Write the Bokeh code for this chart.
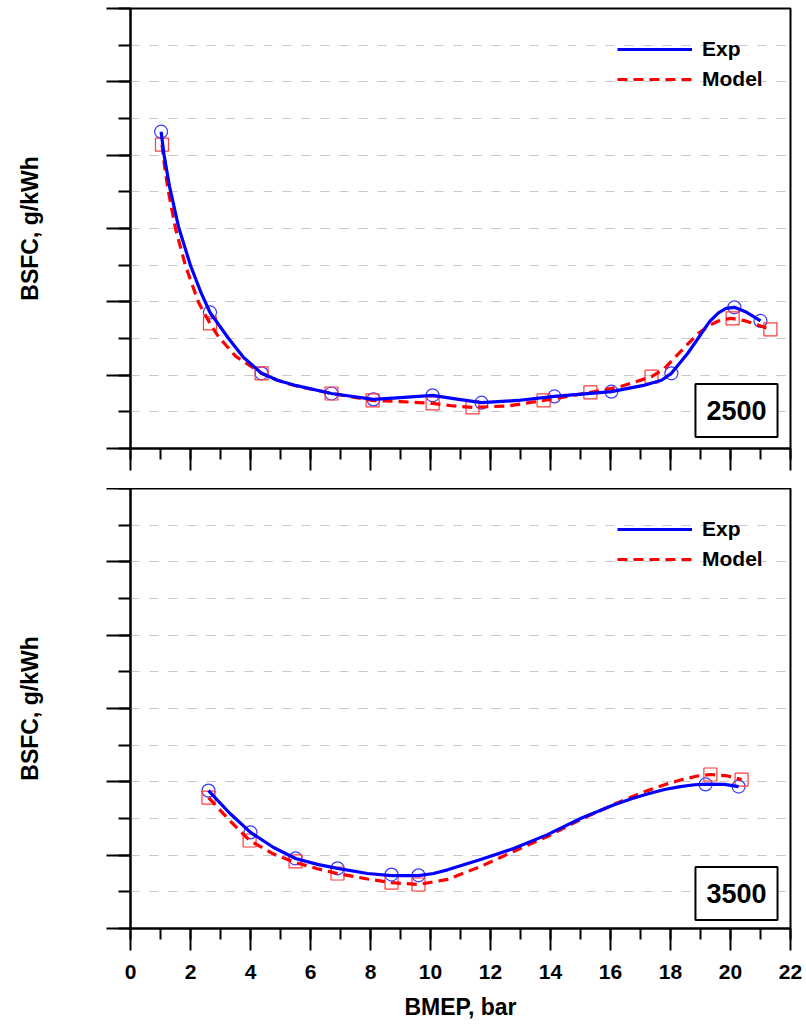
from bokeh.plotting import figure
from bokeh.models import (Range1d, SingleIntervalTicker, CustomJSTickFormatter,
                          Legend, LegendItem, Label)
from bokeh.layouts import column
from bokeh.embed import file_html
from bokeh.resources import INLINE

FONT = "Liberation Sans"

# ---------------- data: 2500 rpm ----------------
exp_2500_x = [1.02, 2.65, 4.37, 6.7, 8.1, 10.07, 11.7, 14.13, 16.03, 18.03, 20.13, 21.0]
exp_2500_y = [286.4, 237.1, 220.5, 215.0, 213.4, 214.5, 212.5, 214.2, 215.5, 220.5, 238.5, 234.8]
model_2500_x = [1.05, 2.65, 4.37, 6.7, 8.07, 10.07, 11.4, 13.77, 15.33, 17.37, 20.07, 21.33]
model_2500_y = [282.9, 234.1, 220.5, 215.0, 213.1, 212.3, 211.2, 213.1, 215.3, 219.6, 235.5, 232.5]

exp_2500_curve_x = [1.02, 1.12, 1.3, 1.6, 2.0, 2.35, 2.65, 3.27, 3.77, 4.37, 4.9, 5.5, 6.7, 8.1, 9.0,
                    10.07, 10.77, 11.7, 12.9, 14.13, 16.03, 17.1, 17.7, 18.03, 18.57, 19.0, 19.3,
                    19.6, 19.85, 20.13, 20.5, 21.0]
exp_2500_curve_y = [286.4, 280.0, 271.5, 260.5, 249.9, 242.5, 237.1, 230.0, 224.8, 220.5, 218.6,
                    217.2, 215.0, 213.4, 213.9, 214.5, 213.6, 212.5, 213.1, 214.2, 215.5, 217.2,
                    218.6, 220.5, 225.9, 231.0, 234.6, 237.0, 238.2, 238.5, 237.3, 234.8]
model_2500_curve_x = [1.05, 1.15, 1.27, 1.5, 1.83, 2.27, 2.65, 2.93, 3.5, 4.37, 4.9, 5.5, 6.7, 8.07,
                      9.0, 10.07, 10.77, 11.4, 12.57, 13.77, 15.33, 16.3, 17.37, 17.8, 18.27,
                      18.9, 19.3, 19.65, 20.03, 20.5, 21.33]
model_2500_curve_y = [282.9, 276.0, 269.8, 260.0, 249.9, 239.8, 234.1, 230.5, 225.2, 220.5, 218.6,
                      217.1, 215.0, 213.1, 212.8, 212.3, 211.6, 211.2, 211.6, 213.1, 215.3, 216.8,
                      219.6, 221.8, 225.9, 231.2, 233.6, 235.0, 235.5, 234.8, 232.5]

# ---------------- data: 3500 rpm ----------------
exp_3500_x = [2.6, 4.0, 5.5, 6.9, 8.7, 9.6, 19.17, 20.27]
exp_3500_y = [237.6, 226.2, 219.1, 216.4, 214.7, 214.5, 239.3, 238.7]
model_3500_x = [2.6, 3.97, 5.5, 6.9, 8.7, 9.6, 19.33, 20.37]
model_3500_y = [235.7, 224.0, 218.3, 215.0, 212.5, 212.0, 242.0, 240.6]

exp_3500_curve_x = [2.6, 3.3, 4.0, 4.77, 5.5, 6.23, 6.9, 7.9, 8.7, 9.6, 10.1, 10.57, 11.67, 12.77,
                    13.9, 15.0, 16.1, 16.7, 17.23, 17.8, 18.33, 18.8, 19.17, 19.8, 20.27]
exp_3500_curve_y = [237.6, 231.5, 226.2, 222.1, 219.1, 217.5, 216.4, 215.0, 214.4, 214.4, 215.0,
                    216.0, 218.8, 221.8, 225.6, 230.0, 233.7, 235.4, 236.7, 237.9, 238.7, 239.2,
                    239.4, 239.3, 238.7]
model_3500_curve_x = [2.6, 3.3, 3.97, 4.77, 5.5, 6.23, 6.9, 7.9, 8.7, 9.6, 10.57, 11.67, 12.77,
                      13.9, 15.0, 16.1, 16.7, 17.23, 17.8, 18.33, 18.9, 19.33, 19.9, 20.37]
model_3500_curve_y = [235.7, 229.5, 224.0, 220.3, 218.0, 216.3, 215.0, 213.5, 212.5, 212.0, 213.4,
                      216.9, 221.0, 225.1, 229.7, 233.8, 235.9, 237.6, 239.2, 240.5, 241.6, 242.0,
                      241.6, 240.6]

x_ticks_major = 2
y_ticks_major = 20
y_lo, y_hi = 200, 320
x_lo, x_hi = 0, 22


def panel(height, b_top, b_bottom, labels, ex, ey, mx, my, ecx, ecy, mcx, mcy, speed, box_y):
    p = figure(width=806, height=height, x_range=Range1d(x_lo, x_hi), y_range=Range1d(y_lo, y_hi),
               output_backend="svg", toolbar_location=None,
               min_border_left=130, min_border_right=16,
               min_border_top=b_top, min_border_bottom=b_bottom)
    p.outline_line_color = "black"
    p.outline_line_width = 2
    p.background_fill_color = "white"
    p.border_fill_color = "white"

    xt = SingleIntervalTicker(interval=x_ticks_major, num_minor_ticks=2)
    yt = SingleIntervalTicker(interval=y_ticks_major, num_minor_ticks=2)
    p.xaxis.ticker = xt
    p.yaxis.ticker = yt
    p.xgrid.visible = False
    p.ygrid.ticker = yt
    p.ygrid.grid_line_color = "#c8c8c8"
    p.ygrid.grid_line_dash = "9 10"
    p.ygrid.grid_line_width = 1
    p.ygrid.minor_grid_line_color = "#c8c8c8"
    p.ygrid.minor_grid_line_dash = "9 10"
    p.ygrid.minor_grid_line_width = 1

    for ax in (p.xaxis, p.yaxis):
        ax.axis_line_width = 2
        ax.major_tick_line_width = 2
        ax.minor_tick_line_width = 2
        ax.major_tick_in = 0
        ax.minor_tick_in = 0
        ax.axis_line_color = "black"
        ax.major_tick_line_color = "black"
        ax.minor_tick_line_color = "black"

    p.xaxis.major_tick_out = 22
    p.xaxis.minor_tick_out = 11
    p.yaxis.major_tick_out = 24
    p.yaxis.minor_tick_out = 12

    p.yaxis.formatter = CustomJSTickFormatter(code="return ''")
    p.yaxis.major_label_text_font_size = "1px"
    p.yaxis.major_label_standoff = 0
    p.yaxis.axis_label = "BSFC, g/kWh"
    p.yaxis.axis_label_text_font = FONT
    p.yaxis.axis_label_text_font_style = "bold"
    p.yaxis.axis_label_text_font_size = "23px"
    p.yaxis.axis_label_text_color = "black"
    p.yaxis.axis_label_standoff = 64

    if labels:
        p.xaxis.major_label_text_font = FONT
        p.xaxis.major_label_text_font_style = "bold"
        p.xaxis.major_label_text_font_size = "21px"
        p.xaxis.major_label_text_color = "black"
        p.xaxis.major_label_standoff = 14
        p.xaxis.axis_label = "BMEP, bar"
        p.xaxis.axis_label_text_font = FONT
        p.xaxis.axis_label_text_font_style = "bold"
        p.xaxis.axis_label_text_font_size = "23px"
        p.xaxis.axis_label_text_color = "black"
        p.xaxis.axis_label_standoff = 12
    else:
        p.xaxis.formatter = CustomJSTickFormatter(code="return ''")
        p.xaxis.major_label_text_font_size = "1px"
        p.xaxis.major_label_standoff = 0

    p.scatter(ex, ey, marker="circle", size=13, fill_color=None, line_color="#3a3aff", line_width=1.2)
    p.scatter(mx, my, marker="square", size=13, fill_color=None, line_color="#ff3a3a", line_width=1.2)
    red = p.line(mcx, mcy, line_color="#ff0000", line_width=3.2, line_dash="10 6")
    blue = p.line(ecx, ecy, line_color="#0000ff", line_width=3.2, line_join="round")

    legend = Legend(items=[LegendItem(label="Exp", renderers=[blue]),
                           LegendItem(label="Model", renderers=[red])],
                    location=(487, 357), glyph_width=75, glyph_height=20, label_height=20,
                    label_standoff=10, spacing=6, padding=0, margin=0,
                    border_line_color=None, background_fill_alpha=0,
                    label_text_font=FONT, label_text_font_style="bold",
                    label_text_font_size="21px", label_text_color="black")
    p.add_layout(legend)

    p.add_layout(Label(x=606, y=box_y, x_units="screen", y_units="screen", text=speed,
                       text_align="center", text_baseline="middle", text_font=FONT,
                       text_font_style="bold", text_font_size="27px", text_color="black",
                       border_line_color="black", border_line_width=2,
                       background_fill_color="white", padding=(11, 17)))
    return p


top = panel(488, 8, 40, False, exp_2500_x, exp_2500_y, model_2500_x, model_2500_y,
            exp_2500_curve_x, exp_2500_curve_y, model_2500_curve_x, model_2500_curve_y, "2500", 38)
bottom = panel(536, 0, 96, True, exp_3500_x, exp_3500_y, model_3500_x, model_3500_y,
               exp_3500_curve_x, exp_3500_curve_y, model_3500_curve_x, model_3500_curve_y, "3500", 35)

layout = column(top, bottom, spacing=0)
open("out.html", "w").write(file_html(layout, INLINE))
